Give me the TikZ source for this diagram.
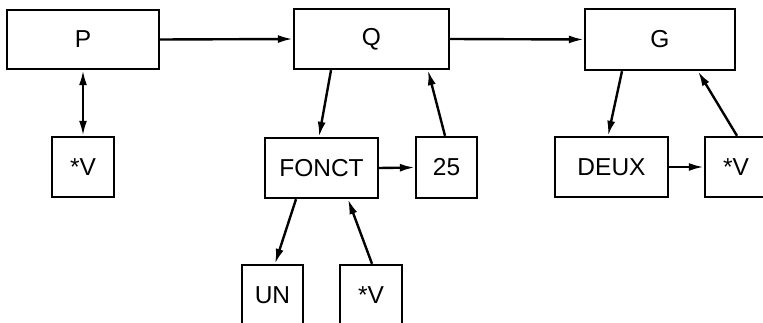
\documentclass[tikz,border=0pt]{standalone}
\usepackage{fontspec}
\setmainfont{Liberation Sans}
\usetikzlibrary{arrows.meta,calc}
\begin{document}
\begin{tikzpicture}[x=1pt,y=-1pt,
  box/.style={draw,line width=2.4pt,inner sep=0pt,font=\fontsize{24.5}{28}\selectfont},
  conn/.style={line width=2.4pt,-{Latex[length=15pt,width=8pt]}},
  biconn/.style={line width=2.4pt,{Latex[length=15pt,width=8pt]}-{Latex[length=15pt,width=8pt]}}]
\useasboundingbox (0,0) rectangle (763,323);
\clip (0,0) rectangle (763,323);
\node[box,minimum width=152pt,minimum height=59pt] (P) at (83,39.5) {P};
\node[box,minimum width=155pt,minimum height=60pt] (Q) at (371.5,39) {Q};
\node[box,minimum width=150pt,minimum height=61pt] (G) at (660,39.5) {G};
\node[box,minimum width=62pt,minimum height=60pt] (V1) at (83,167) {*V};
\node[box,minimum width=113pt,minimum height=60pt] (F) at (321.5,168) {FONCT};
\node[box,minimum width=61pt,minimum height=61pt] (N) at (446.5,167.5) {25};
\node[box,minimum width=61pt,minimum height=60pt] (UN) at (272.5,295) {UN};
\node[box,minimum width=62pt,minimum height=60pt] (V2) at (371,295) {*V};
\node[box,minimum width=113pt,minimum height=60pt] (D) at (611.5,167) {DEUX};
\node[box,minimum width=62pt,minimum height=60pt] (V3) at (736,167) {*V};
\draw[conn] (P.east) -- (Q.west);
\draw[conn] (Q.east) -- (G.west);
\draw[biconn] (P.south) -- (V1.north);
\draw[conn] ([xshift=-40.5pt]Q.south) -- ([xshift=-2.5pt]F.north);
\draw[conn] ([xshift=-1.5pt]N.north) -- ([xshift=56.5pt]Q.south);
\draw[conn] (F.east) -- (N.west);
\draw[conn] ([xshift=-25.5pt]F.south) -- ([xshift=2.5pt]UN.north);
\draw[conn] ([xshift=1pt]V2.north) -- ([xshift=26.5pt]F.south);
\draw[conn] ([xshift=-38pt]G.south) -- ([xshift=-3.5pt]D.north);
\draw[conn] ([xshift=1pt]V3.north) -- ([xshift=38pt]G.south);
\draw[conn] (D.east) -- (V3.west);
\end{tikzpicture}
\end{document}
